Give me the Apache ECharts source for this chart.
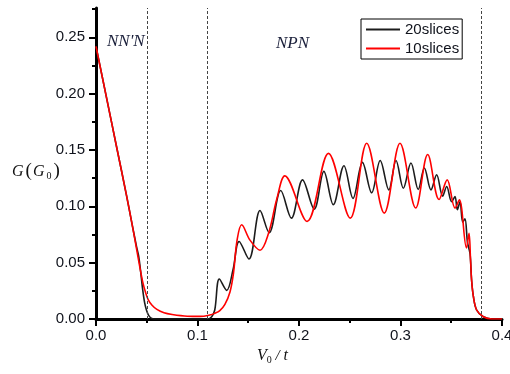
<!DOCTYPE html>
<html>
<head>
<meta charset="utf-8">
<script src="https://cdn.jsdelivr.net/npm/echarts@6/dist/echarts.min.js"></script>
<style>
  html, body { margin: 0; padding: 0; background: #fff; }
  #chart { width: 510px; height: 374px; }
</style>
</head>
<body>
<div id="chart"></div>
<script>
// conductance vs barrier height, two slicing resolutions
const slices20 = [
  [0, 0.242], [0.01, 0.198], [0.02, 0.154], [0.03, 0.110], [0.036, 0.082],
  [0.04, 0.064], [0.042, 0.056], [0.044, 0.042], [0.046, 0.026], [0.048, 0.014],
  [0.05, 0.007], [0.052, 0.003], [0.055, 0.0005], [0.06, 0],
  [0.11, 0], [0.114, 0.002], [0.117, 0.008], [0.1215, 0.0355], [0.1288, 0.0254],
  [0.135, 0.0437], [0.141, 0.0688], [0.1507, 0.0532], [0.1616, 0.0963], [0.1706, 0.0766],
  [0.182, 0.114], [0.1925, 0.0895], [0.2035, 0.1235], [0.215, 0.0975], [0.2245, 0.131],
  [0.2338, 0.1015], [0.2443, 0.136], [0.2532, 0.107], [0.2625, 0.139], [0.2716, 0.112],
  [0.28, 0.1406], [0.2885, 0.1146], [0.2956, 0.1406], [0.3028, 0.116], [0.3103, 0.1385],
  [0.3175, 0.115], [0.3235, 0.134], [0.33, 0.1146], [0.3356, 0.128], [0.3415, 0.109],
  [0.3455, 0.1176], [0.3504, 0.104], [0.3537, 0.1087], [0.356, 0.097], [0.3586, 0.104],
  [0.3613, 0.086], [0.3635, 0.089], [0.366, 0.068], [0.3685, 0.058], [0.37, 0.035],
  [0.3718, 0.02], [0.375, 0.008], [0.3816, 0.002], [0.39, 0], [0.4, 0],
];
const slices10 = [
  [0, 0.242], [0.01, 0.198], [0.02, 0.154], [0.03, 0.110], [0.036, 0.082],
  [0.04, 0.062], [0.043, 0.047], [0.046, 0.033], [0.049, 0.023], [0.0515, 0.017],
  [0.055, 0.0125], [0.06, 0.0085], [0.067, 0.0055], [0.075, 0.004], [0.09, 0.0025],
  [0.1025, 0.0023], [0.112, 0.0035], [0.117, 0.005], [0.122, 0.0075], [0.127, 0.013],
  [0.132, 0.024], [0.1355, 0.041], [0.139, 0.07], [0.1435, 0.0836], [0.1517, 0.070],
  [0.1616, 0.061], [0.17, 0.076], [0.178, 0.106], [0.186, 0.127], [0.208, 0.0866],
  [0.229, 0.147], [0.2505, 0.0895], [0.2667, 0.156], [0.284, 0.094], [0.2995, 0.156],
  [0.315, 0.0985], [0.3268, 0.146], [0.338, 0.106], [0.346, 0.1235], [0.3537, 0.0984],
  [0.358, 0.1058], [0.365, 0.063], [0.3675, 0.076], [0.369, 0.0526], [0.37, 0.035],
  [0.3718, 0.02], [0.375, 0.008], [0.3816, 0.002], [0.39, 0], [0.4, 0],
];
const regionBounds = [0.0542, 0.1123, 0.3845];
const xTicks = [0, 0.1, 0.2, 0.3, 0.4];
const yTicks = [0, 0.05, 0.1, 0.15, 0.2, 0.25];
const yMinorTicks = [0.025, 0.075, 0.125, 0.175, 0.225, 0.275];

const INK = '#000';
const LABEL = '#10131c';
const SERIF = '"Liberation Serif", "DejaVu Serif", serif';
const SANS = '"Liberation Sans", Arial, sans-serif';
const Y_MAX = 0.276;

const chart = echarts.init(document.getElementById('chart'), null, { renderer: 'canvas' });

const lineSeries = (name, data, color, extra) => ({
  name, type: 'line', data,
  symbol: 'none', showSymbol: false,
  smooth: 0.35,
  lineStyle: { color, width: 1.6 },
  itemStyle: { color },
  ...extra,
});

chart.setOption({
  animation: false,
  grid: { left: 96, right: 8, top: 8, bottom: 55, outerBoundsMode: 'none' },
  legend: {
    orient: 'vertical',
    left: 361, top: 19,
    padding: [3, 3, 3, 5],
    itemGap: 4,
    icon: 'rect',
    itemWidth: 34, itemHeight: 2,
    borderColor: INK, borderWidth: 1,
    textStyle: { color: LABEL, fontSize: 15, fontFamily: SANS, lineHeight: 15 },
    data: ['20slices', '10slices'],
  },
  xAxis: {
    type: 'value', min: 0, max: 0.4, interval: 0.1,
    axisLine: { lineStyle: { color: INK, width: 3 } },
    axisTick: { length: 7, lineStyle: { color: INK, width: 2 } },
    minorTick: { show: true, splitNumber: 2, length: 4, lineStyle: { color: INK, width: 2 } },
    splitLine: { show: false },
    axisLabel: {
      margin: 9, color: LABEL, fontSize: 15, fontFamily: SANS,
      alignMaxLabel: 'center',
      formatter: (v) => v.toFixed(1),
      customValues: xTicks,
    },
  },
  yAxis: [{
    type: 'value', min: 0, max: Y_MAX,
    axisLine: { show: true, lineStyle: { color: INK, width: 3 } },
    axisTick: { show: true, length: 7, lineStyle: { color: INK, width: 2 }, customValues: yTicks },
    splitLine: { show: false },
    axisLabel: {
      margin: 11, color: LABEL, fontSize: 15, fontFamily: SANS,
      formatter: (v) => v.toFixed(2),
      customValues: yTicks,
    },
  }, {
    // overlay axis carrying only the minor ticks
    type: 'value', min: 0, max: Y_MAX, position: 'left', offset: 0,
    axisLine: { show: false },
    axisTick: { show: true, length: 4, lineStyle: { color: INK, width: 2 }, customValues: yMinorTicks },
    axisLabel: { show: false },
    splitLine: { show: false },
  }],
  series: [
    lineSeries('20slices', slices20, '#1c1c1c', {
      markLine: {
        silent: true, symbol: ['none', 'none'],
        label: { show: false },
        lineStyle: { color: '#444', type: [3, 2], width: 1 },
        data: regionBounds.map((v) => ({ xAxis: v })),
      },
    }),
    lineSeries('10slices', slices10, '#ff0000'),
  ],
  graphic: [
    {
      type: 'text', left: 107, top: 33,
      style: { text: "NN'N", font: 'italic 17px ' + SERIF, fill: '#1a1f3a' },
    },
    {
      type: 'text', left: 276, top: 35,
      style: { text: 'NPN', font: 'italic 17px ' + SERIF, fill: '#1a1f3a' },
    },
    {
      type: 'text', left: 12, top: 162,
      style: {
        text: '{i|G}{p|(}{i|G}{s|0}{p|)}',
        fill: '#111',
        rich: {
          i: { fontFamily: SERIF, fontStyle: 'italic', fontSize: 16, lineHeight: 20, padding: [0, 1, 0, 0] },
          p: { fontFamily: SERIF, fontSize: 19, lineHeight: 20, padding: [0, 1, 0, 1] },
          s: { fontFamily: SERIF, fontSize: 10, lineHeight: 20, verticalAlign: 'bottom', padding: [0, 1, 0, 1] },
        },
      },
    },
    {
      type: 'text', left: 257, top: 348,
      style: {
        text: '{i|V}{s|0}{n| / }{i|t}',
        fill: '#111',
        rich: {
          i: { fontFamily: SERIF, fontStyle: 'italic', fontSize: 16, lineHeight: 18 },
          n: { fontFamily: SERIF, fontStyle: 'italic', fontSize: 15, lineHeight: 18 },
          s: { fontFamily: SERIF, fontSize: 10, lineHeight: 18, verticalAlign: 'bottom' },
        },
      },
    },
  ],
});
</script>
</body>
</html>
